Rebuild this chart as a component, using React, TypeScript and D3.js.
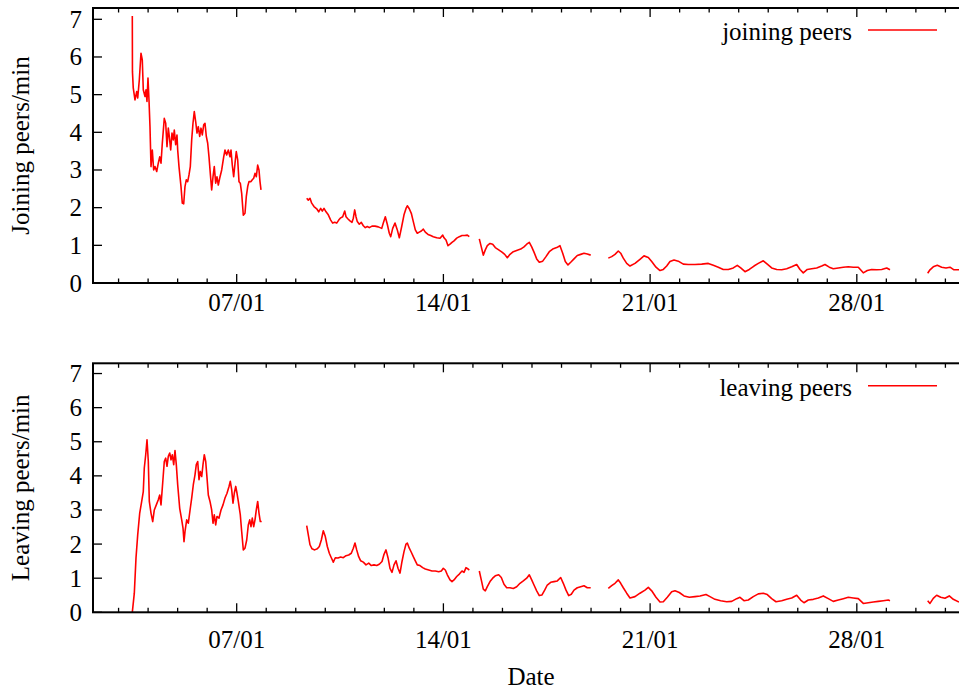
import React from 'react';
import * as d3 from 'd3';

// time in days of January (07/01 = 7.0); null marks a gap in the recording
const joinTimes: number[] = [
  3.465, 3.470, 3.498, 3.556, 3.614, 3.648, 3.702, 3.759, 3.803, 3.837, 3.895, 3.929, 3.962, 3.996, 4.030, 4.064, 4.098, 4.142, 4.189, 4.233,
  4.291, 4.345, 4.393, 4.437, 4.481, 4.548, 4.596, 4.640, 4.684, 4.718, 4.765, 4.809, 4.853, 4.887, 4.934, 4.978, 5.002, 5.046, 5.114, 5.158,
  5.205, 5.249, 5.293, 5.341, 5.385, 5.429, 5.476, 5.520, 5.564, 5.612, 5.656, 5.700, 5.747, 5.791, 5.835, 5.883, 5.927, 5.971, 6.018, 6.062,
  6.106, 6.153, 6.198, 6.241, 6.289, 6.333, 6.377, 6.424, 6.492, 6.560, 6.604, 6.661, 6.716, 6.773, 6.807, 6.851, 6.898, 6.943, 6.986, 7.034,
  7.078, 7.122, 7.169, 7.224, 7.281, 7.325, 7.373, 7.416, 7.484, 7.528, 7.576, 7.620, 7.664, 7.711, 7.755, 7.789, 7.823,
  8.6,
  9.371, 9.425, 9.483, 9.540, 9.618, 9.710, 9.777, 9.845, 9.899, 9.957, 10.025, 10.102, 10.184, 10.251, 10.319, 10.387, 10.455, 10.522, 10.590, 10.658,
  10.702, 10.770, 10.837, 10.905, 10.949, 10.996, 11.040, 11.084, 11.152, 11.220, 11.288, 11.355, 11.423, 11.491, 11.582, 11.684, 11.796, 11.911, 11.965, 12.033,
  12.100, 12.168, 12.216, 12.283, 12.361, 12.439, 12.507, 12.588, 12.666, 12.734, 12.778, 12.845, 12.913, 12.981, 13.049, 13.116, 13.184, 13.252, 13.320, 13.387,
  13.479, 13.570, 13.658, 13.773, 13.885, 13.977, 14.021, 14.088, 14.156, 14.224, 14.291, 14.359, 14.451, 14.539, 14.630, 14.721, 14.810, 14.877,
  15.05,
  15.216, 15.283, 15.351, 15.419, 15.487, 15.578, 15.669, 15.757, 15.873, 15.984, 16.076, 16.164, 16.255, 16.367, 16.502, 16.618, 16.729, 16.821, 16.909, 16.990,
  17.068, 17.159, 17.247, 17.363, 17.474, 17.586, 17.701, 17.837, 17.948, 18.040, 18.128, 18.219, 18.311, 18.423, 18.534, 18.649, 18.761, 18.873, 18.988,
  19.3,
  19.584, 19.699, 19.811, 19.923, 20.004, 20.092, 20.207, 20.319, 20.488, 20.657, 20.793, 20.939, 21.054, 21.199, 21.335, 21.447, 21.562, 21.673, 21.809, 21.954,
  22.124, 22.293, 22.520, 22.747, 22.970, 23.140, 23.309, 23.478, 23.648, 23.817, 23.952, 24.068, 24.213, 24.359, 24.518, 24.664, 24.833, 24.968, 25.117, 25.287,
  25.456, 25.625, 25.795, 25.964, 26.076, 26.187, 26.323, 26.472, 26.641, 26.811, 26.922, 27.068, 27.203, 27.373, 27.542, 27.711, 27.881, 28.050, 28.219, 28.355,
  28.504, 28.673, 28.842, 29.012, 29.123,
  29.8,
  30.400, 30.478, 30.589, 30.725, 30.874, 31.019, 31.155, 31.290, 31.460,
];
const joinValues: (number | null)[] = [
  7.09, 5.61, 5.17, 4.86, 5.08, 4.91, 5.39, 6.10, 5.92, 5.13, 4.95, 5.13, 4.82, 5.44, 4.86, 4.15, 3.09, 3.53, 3.00, 3.09,
  2.96, 3.18, 3.35, 3.18, 3.71, 4.37, 4.24, 3.62, 4.11, 3.89, 3.53, 3.98, 3.80, 4.06, 3.67, 3.93, 3.53, 3.09, 2.56, 2.12,
  2.10, 2.56, 2.74, 2.69, 2.87, 3.09, 3.80, 4.24, 4.55, 4.28, 3.98, 4.15, 3.89, 4.11, 3.93, 4.20, 4.24, 3.89, 3.71, 3.35,
  2.91, 2.47, 2.82, 3.09, 2.65, 2.82, 2.60, 2.78, 3.00, 3.35, 3.53, 3.40, 3.53, 3.35, 3.53, 3.13, 2.82, 3.18, 3.49, 3.27,
  2.69, 2.65, 2.38, 1.80, 1.85, 2.29, 2.56, 2.69, 2.69, 2.74, 2.78, 2.91, 2.82, 3.13, 3.00, 2.69, 2.47,
  null,
  2.25, 2.20, 2.25, 2.12, 2.03, 1.97, 1.89, 1.98, 1.91, 1.98, 1.89, 1.81, 1.67, 1.59, 1.61, 1.59, 1.67, 1.73, 1.76, 1.91,
  1.76, 1.70, 1.65, 1.61, 1.72, 1.94, 1.76, 1.63, 1.56, 1.61, 1.52, 1.47, 1.50, 1.47, 1.51, 1.51, 1.49, 1.45, 1.59, 1.76,
  1.56, 1.32, 1.23, 1.45, 1.59, 1.41, 1.20, 1.50, 1.81, 1.98, 2.05, 1.97, 1.85, 1.63, 1.41, 1.32, 1.35, 1.38, 1.43, 1.35,
  1.29, 1.26, 1.23, 1.20, 1.19, 1.27, 1.20, 1.14, 0.99, 1.03, 1.08, 1.12, 1.19, 1.23, 1.26, 1.26, 1.27, 1.23,
  null,
  1.17, 0.96, 0.74, 0.88, 0.99, 1.05, 1.03, 0.94, 0.88, 0.82, 0.76, 0.67, 0.76, 0.83, 0.87, 0.90, 0.96, 1.03, 1.08, 0.96,
  0.82, 0.64, 0.55, 0.58, 0.70, 0.83, 0.90, 0.94, 0.99, 0.79, 0.57, 0.48, 0.55, 0.64, 0.73, 0.76, 0.79, 0.77, 0.74,
  null,
  0.66, 0.70, 0.76, 0.85, 0.79, 0.66, 0.52, 0.45, 0.52, 0.63, 0.72, 0.68, 0.57, 0.42, 0.33, 0.36, 0.45, 0.57, 0.61, 0.58,
  0.50, 0.49, 0.49, 0.50, 0.52, 0.47, 0.42, 0.36, 0.36, 0.40, 0.47, 0.40, 0.30, 0.36, 0.45, 0.52, 0.59, 0.50, 0.40, 0.36,
  0.35, 0.38, 0.43, 0.49, 0.36, 0.27, 0.36, 0.38, 0.40, 0.45, 0.49, 0.42, 0.38, 0.40, 0.42, 0.43, 0.42, 0.42, 0.27, 0.33,
  0.36, 0.35, 0.36, 0.40, 0.35,
  null,
  0.26, 0.35, 0.43, 0.47, 0.42, 0.40, 0.42, 0.35, 0.35,
];

const leaveTimes: number[] = [
  3.465, 3.533, 3.590, 3.648, 3.716, 3.783, 3.837, 3.871, 3.919, 3.963, 4.007, 4.041, 4.098, 4.156, 4.210, 4.278, 4.345, 4.393, 4.437, 4.494,
  4.548, 4.596, 4.640, 4.684, 4.732, 4.776, 4.820, 4.867, 4.911, 4.955, 5.002, 5.070, 5.138, 5.182, 5.216, 5.250, 5.307, 5.361, 5.429, 5.476,
  5.531, 5.588, 5.632, 5.680, 5.724, 5.768, 5.815, 5.859, 5.903, 5.951, 5.995, 6.039, 6.096, 6.153, 6.198, 6.241, 6.289, 6.333, 6.401, 6.469,
  6.537, 6.604, 6.672, 6.740, 6.784, 6.831, 6.875, 6.919, 6.967, 7.011, 7.055, 7.122, 7.169, 7.224, 7.281, 7.339, 7.393, 7.441, 7.484, 7.528,
  7.576, 7.620, 7.664, 7.711, 7.755, 7.799, 7.847,
  8.6,
  9.371, 9.425, 9.483, 9.551, 9.642, 9.730, 9.798, 9.866, 9.933, 10.001, 10.069, 10.137, 10.204, 10.272, 10.340, 10.431, 10.522, 10.610, 10.702, 10.793,
  10.881, 10.949, 11.006, 11.064, 11.131, 11.199, 11.288, 11.379, 11.471, 11.559, 11.650, 11.741, 11.829, 11.921, 11.989, 12.056, 12.124, 12.192, 12.260, 12.327,
  12.395, 12.463, 12.531, 12.598, 12.666, 12.734, 12.778, 12.845, 12.913, 12.981, 13.049, 13.116, 13.207, 13.298, 13.387, 13.503, 13.615, 13.726, 13.841, 13.930,
  13.997, 14.065, 14.133, 14.224, 14.291, 14.359, 14.451, 14.539, 14.630, 14.698, 14.766, 14.833, 14.877,
  15.05,
  15.216, 15.283, 15.351, 15.419, 15.487, 15.578, 15.669, 15.757, 15.873, 15.961, 16.052, 16.144, 16.255, 16.367, 16.482, 16.594, 16.706, 16.821, 16.909, 16.990,
  17.068, 17.159, 17.247, 17.339, 17.430, 17.518, 17.634, 17.745, 17.857, 17.972, 18.060, 18.152, 18.243, 18.331, 18.423, 18.534, 18.649, 18.761, 18.873, 18.988,
  19.3,
  19.584, 19.699, 19.811, 19.923, 20.004, 20.092, 20.207, 20.319, 20.488, 20.657, 20.827, 20.939, 21.054, 21.199, 21.335, 21.447, 21.582, 21.731, 21.843, 21.988,
  22.148, 22.327, 22.520, 22.689, 22.892, 23.028, 23.197, 23.390, 23.593, 23.763, 23.932, 24.044, 24.179, 24.325, 24.494, 24.664, 24.833, 24.968, 25.117, 25.263,
  25.456, 25.625, 25.795, 25.964, 26.099, 26.211, 26.357, 26.526, 26.696, 26.865, 27.034, 27.203, 27.373, 27.542, 27.711, 27.881, 28.050, 28.219, 28.389, 28.558,
  28.727, 28.897, 29.066, 29.123,
  29.8,
  30.400, 30.478, 30.589, 30.704, 30.840, 30.985, 31.131, 31.267, 31.460,
];
const leaveValues: (number | null)[] = [
  0.00, 0.56, 1.59, 2.27, 2.91, 3.25, 3.54, 4.23, 4.62, 5.06, 4.42, 3.25, 2.91, 2.66, 3.00, 3.15, 3.30, 3.44, 3.15, 3.79,
  4.42, 4.52, 4.28, 4.57, 4.67, 4.47, 4.62, 4.33, 4.74, 4.33, 3.74, 3.05, 2.71, 2.47, 2.07, 2.37, 2.71, 2.61, 3.05, 3.35,
  3.74, 4.03, 4.33, 4.42, 3.89, 4.13, 3.98, 4.33, 4.62, 4.42, 3.94, 3.44, 3.25, 3.00, 2.61, 2.86, 2.56, 2.81, 2.76, 3.00,
  3.15, 3.35, 3.49, 3.69, 3.84, 3.59, 3.20, 3.49, 3.69, 3.49, 3.25, 2.86, 2.37, 1.83, 1.88, 2.12, 2.56, 2.71, 2.51, 2.76,
  2.51, 2.71, 3.00, 3.25, 2.91, 2.66, 2.66,
  null,
  2.54, 2.27, 1.98, 1.86, 1.83, 1.86, 1.93, 2.12, 2.39, 2.22, 1.93, 1.73, 1.60, 1.47, 1.60, 1.59, 1.62, 1.60, 1.66, 1.68,
  1.73, 1.88, 2.03, 1.83, 1.63, 1.51, 1.47, 1.39, 1.44, 1.37, 1.39, 1.37, 1.41, 1.49, 1.70, 1.83, 1.60, 1.29, 1.17, 1.39,
  1.51, 1.29, 1.15, 1.49, 1.78, 2.00, 2.03, 1.88, 1.76, 1.63, 1.51, 1.39, 1.37, 1.31, 1.27, 1.24, 1.21, 1.21, 1.19, 1.21,
  1.29, 1.24, 1.10, 0.95, 0.90, 0.95, 1.05, 1.12, 1.21, 1.17, 1.31, 1.27, 1.24,
  null,
  1.21, 0.95, 0.68, 0.63, 0.75, 0.90, 1.00, 1.07, 1.10, 1.02, 0.82, 0.72, 0.72, 0.70, 0.75, 0.85, 0.92, 1.00, 1.10, 0.95,
  0.80, 0.63, 0.49, 0.51, 0.65, 0.80, 0.88, 0.90, 0.92, 1.02, 0.85, 0.65, 0.49, 0.53, 0.65, 0.72, 0.75, 0.78, 0.72, 0.72,
  null,
  0.70, 0.78, 0.85, 0.95, 0.85, 0.72, 0.56, 0.42, 0.46, 0.56, 0.65, 0.73, 0.63, 0.44, 0.30, 0.31, 0.44, 0.60, 0.63, 0.58,
  0.48, 0.44, 0.46, 0.48, 0.52, 0.46, 0.38, 0.34, 0.31, 0.32, 0.40, 0.44, 0.34, 0.36, 0.46, 0.54, 0.56, 0.52, 0.40, 0.31,
  0.34, 0.38, 0.42, 0.50, 0.36, 0.28, 0.36, 0.38, 0.42, 0.48, 0.40, 0.32, 0.36, 0.40, 0.44, 0.42, 0.40, 0.26, 0.28, 0.30,
  0.32, 0.34, 0.36, 0.34,
  null,
  0.34, 0.26, 0.41, 0.50, 0.44, 0.41, 0.48, 0.38, 0.30,
];

const yTickValues = [0, 1, 2, 3, 4, 5, 6, 7];
const majorTickDays = [7, 14, 21, 28];
const majorTickLabels = ['07/01', '14/01', '21/01', '28/01'];
const minorTickDays = [3, 4, 5, 6, 8, 9, 10, 11, 12, 13, 15, 16, 17, 18, 19, 20, 22, 23, 24, 25, 26, 27, 29, 30, 31];
const xDomain = [2.134, 31.799];
const yDomain = [0, 7.3];

const FONT = '"Liberation Serif", "Times New Roman", Times, serif';
const LEFT = 93;
const RIGHT = 969;

const x = d3.scaleLinear().domain(xDomain).range([LEFT, RIGHT]);

type PanelProps = {
  top: number;
  bottom: number;
  times: number[];
  values: (number | null)[];
  ylabel: string;
  legend: string;
  legendY: number;
  labelBaseline: number;
};

function Panel({ top, bottom, times, values, ylabel, legend, legendY, labelBaseline }: PanelProps) {
  const y = d3.scaleLinear().domain(yDomain).range([bottom, top]);
  const pts = times.map((t, i) => ({ t, v: values[i] }));
  const line = d3
    .line<{ t: number; v: number | null }>()
    .defined((d) => d.v != null)
    .x((d) => x(d.t))
    .y((d) => y(d.v as number));
  return (
    <g>
      <path d={line(pts) || ''} fill="none" stroke="#ff0000" strokeWidth={1.6} strokeLinejoin="round" />
      {yTickValues.map((v) => (
        <g key={'y' + v}>
          <line x1={LEFT} x2={LEFT + 9} y1={y(v)} y2={y(v)} stroke="#000" strokeWidth={1.3} />
          <line x1={RIGHT} x2={RIGHT - 9} y1={y(v)} y2={y(v)} stroke="#000" strokeWidth={1.3} />
          <text x={82} y={y(v) + 8.5} textAnchor="end" fontFamily={FONT} fontSize={25} fill="#000">
            {v}
          </text>
        </g>
      ))}
      {minorTickDays.map((d) => (
        <g key={'m' + d}>
          <line x1={x(d)} x2={x(d)} y1={bottom} y2={bottom - 4.5} stroke="#000" strokeWidth={1.3} />
          <line x1={x(d)} x2={x(d)} y1={top} y2={top + 4.5} stroke="#000" strokeWidth={1.3} />
        </g>
      ))}
      {majorTickDays.map((d, i) => (
        <g key={'M' + d}>
          <line x1={x(d)} x2={x(d)} y1={bottom} y2={bottom - 9} stroke="#000" strokeWidth={1.3} />
          <line x1={x(d)} x2={x(d)} y1={top} y2={top + 9} stroke="#000" strokeWidth={1.3} />
          <text x={x(d)} y={labelBaseline} textAnchor="middle" fontFamily={FONT} fontSize={25} fill="#000">
            {majorTickLabels[i]}
          </text>
        </g>
      ))}
      <rect x={LEFT} y={top} width={RIGHT - LEFT} height={bottom - top} fill="none" stroke="#000" strokeWidth={2} />
      <text
        transform={`translate(29, ${(top + bottom) / 2}) rotate(-90)`}
        textAnchor="middle"
        fontFamily={FONT}
        fontSize={25}
        fill="#000"
      >
        {ylabel}
      </text>
      <text x={852} y={legendY + 10} textAnchor="end" fontFamily={FONT} fontSize={25} fill="#000">
        {legend}
      </text>
      <line x1={868} x2={937} y1={legendY} y2={legendY} stroke="#ff0000" strokeWidth={1.4} />
    </g>
  );
}

export default function App() {
  return (
    <svg
      width={959}
      height={689}
      viewBox="0 0 959 689"
      style={{ position: 'absolute', left: 0, top: 0, background: '#fff' }}
    >
      <rect x={0} y={0} width={959} height={689} fill="#fff" />
      <Panel
        top={8}
        bottom={283}
        times={joinTimes}
        values={joinValues}
        ylabel="Joining peers/min"
        legend="joining peers"
        legendY={30}
        labelBaseline={311}
      />
      <Panel
        top={363.3}
        bottom={612.3}
        times={leaveTimes}
        values={leaveValues}
        ylabel="Leaving peers/min"
        legend="leaving peers"
        legendY={385.7}
        labelBaseline={648}
      />
      <text x={531} y={685} textAnchor="middle" fontFamily={FONT} fontSize={25} fill="#000">
        Date
      </text>
    </svg>
  );
}
